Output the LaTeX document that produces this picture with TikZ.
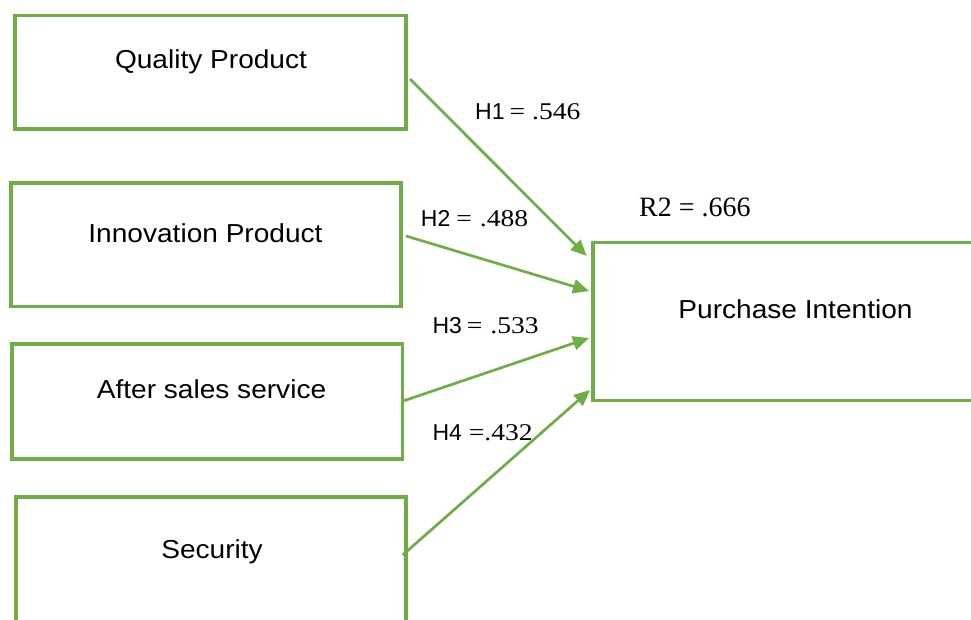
\documentclass[tikz,border=0pt]{standalone}
\usepackage{fontspec}
\setmainfont{Liberation Sans}
\newfontfamily\boxfont[FakeStretch=1.08]{Liberation Sans}
\newfontfamily\numfont[FakeStretch=1.15]{Liberation Serif}
\newfontfamily\rfont{Liberation Serif}
\usetikzlibrary{arrows.meta}
\definecolor{leaf}{RGB}{112,173,71}

% path label: sans "Hn", serif "= value" with set gaps
\newcommand{\pathlabel}[4]{{\fontsize{23}{27}\selectfont #1}\hspace{#3}{\numfont\fontsize{24}{28}\selectfont =\hspace{#4}#2}}

\tikzset{
  varbox/.style={draw=leaf, line width=3.3pt, rectangle, inner sep=0pt},
  vartext/.style={anchor=base, inner sep=0pt, font=\boxfont\fontsize{26}{31}\selectfont},
  coef/.style={anchor=base west, inner sep=0pt},
  effect/.style={draw=leaf, line width=2.7pt, -{Triangle[length=16pt,width=14pt]}}
}

\begin{document}
\begin{tikzpicture}[x=1pt, y=-1pt]
  \useasboundingbox (0,0) rectangle (971,619);
  \clip (0,0) rectangle (971,619);

  % predictor boxes
  \node[varbox, minimum width=391pt, minimum height=113.5pt] (qp) at (210.5,72.25) {};
  \node[varbox, minimum width=390pt, minimum height=123.5pt] (ip) at (206,244.75) {};
  \node[varbox, minimum width=390.5pt, minimum height=115pt] (as) at (207.25,401.5) {};
  \node[varbox, minimum width=390pt, minimum height=143pt] (se) at (211,568.5) {};
  % outcome box
  \node[varbox, minimum width=387pt, minimum height=158pt] (pi) at (786.5,321.5) {};

  % box captions
  \node[vartext] (qpt) at (211,68.3) {Quality Product};
  \node[vartext] (ipt) at (205.5,242.3) {Innovation Product};
  \node[vartext] (ast) at (211.5,398.3) {After sales service};
  \node[vartext] (set) at (212,558) {Security};
  \node[vartext] (pit) at (795.5,318) {Purchase Intention};

  % connector end points
  \coordinate (h1s) at (410,79);    \coordinate (h1e) at (586.7,256);
  \coordinate (h2s) at (406,236);   \coordinate (h2e) at (589,291);
  \coordinate (h3s) at (404,400.7); \coordinate (h3e) at (589,338);
  \coordinate (h4s) at (402.7,555); \coordinate (h4e) at (590,390);

  \draw[effect] (h1s) -- (h1e);
  \draw[effect] (h2s) -- (h2e);
  \draw[effect] (h3s) -- (h3e);
  \draw[effect] (h4s) -- (h4e);

  % path coefficients
  \node[coef] (l1) at (475,119.3) {\pathlabel{H1}{.546}{5pt}{7pt}};
  \node[coef] (l2) at (420.7,226.7) {\pathlabel{H2}{.488}{6pt}{8pt}};
  \node[coef] (l3) at (432.3,333.3) {\pathlabel{H3}{.533}{5pt}{8pt}};
  \node[coef] (l4) at (432.3,440) {\pathlabel{H4}{.432}{7pt}{0pt}};

  % explained variance
  \node[coef] (r2) at (639,216.7) {\rfont\fontsize{28}{33}\selectfont R2 = .666};
\end{tikzpicture}
\end{document}
